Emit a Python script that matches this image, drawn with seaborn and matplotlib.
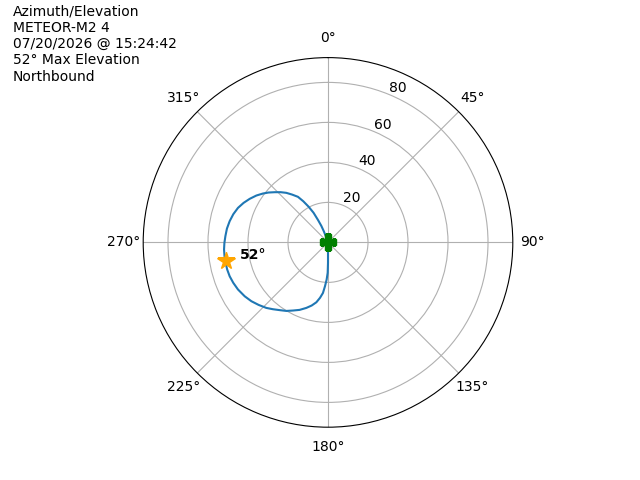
import numpy as np
import matplotlib
matplotlib.use("Agg")
import matplotlib.pyplot as plt
import seaborn as sns

# pass track (azimuth deg, elevation deg)
azimuth = [180.0, 180.0, 180.6, 182.1, 183.9, 185.7, 188.2, 191.0, 194.5, 198.3,
           202.8, 207.2, 211.3, 215.5, 219.5, 223.3, 228.0, 232.5, 237.1, 242.4,
           246.9, 251.0, 255.0, 258.7, 262.4, 266.1, 269.7, 273.5, 277.8, 282.2,
           286.6, 291.0, 295.1, 299.1, 303.2, 306.9, 310.0, 313.3, 316.7, 319.9,
           323.1, 326.6, 329.0, 331.5, 334.0, 336.0, 338.0, 339.5, 340.5, 341.0]
elevation = [0.0, 10.2, 15.2, 18.6, 21.9, 25.4, 28.0, 30.5, 32.6, 34.5,
             36.6, 38.3, 40.1, 41.6, 43.3, 45.0, 46.7, 48.3, 49.6, 50.8,
             51.5, 52.0, 52.2, 52.2, 52.2, 52.1, 51.8, 51.4, 51.0, 50.3,
             49.4, 48.2, 46.6, 44.8, 42.8, 40.7, 38.8, 36.6, 34.5, 32.4,
             29.9, 27.3, 24.0, 20.3, 16.5, 12.2, 8.9, 5.8, 2.8, 0.0]

max_az = 259.5
max_el = 52
start_az = 180.0
start_el = 0.0

header = ["Azimuth/Elevation", "METEOR-M2 4", "07/20/2026 @ 15:24:42",
          "52° Max Elevation", "Northbound"]

fig = plt.figure(figsize=(6.4, 4.8), dpi=100)
ax = fig.add_subplot(111, projection="polar")
ax.set_theta_zero_location("N")
ax.set_theta_direction(-1)

sns.lineplot(x=np.radians(azimuth), y=elevation, ax=ax, sort=False,
             estimator=None, color="C0", linewidth=1.5)

ax.plot(np.radians(start_az), start_el, marker="P", color="green",
        markersize=11, linestyle="none")
ax.plot(np.radians(max_az), max_el, marker="*", color="orange",
        markersize=13, linestyle="none")
ax.annotate(f"{max_el}°", (np.radians(max_az), max_el), xytext=(10, 2),
            textcoords="offset points", fontweight="bold", fontsize=10)

ax.set_ylim(0, 92.4)
ax.set_xlabel("")
ax.set_ylabel("")

fig.text(0.02, 0.99, "\n".join(header), ha="left", va="top", fontsize=10)

fig.savefig("out.png", dpi=100)
